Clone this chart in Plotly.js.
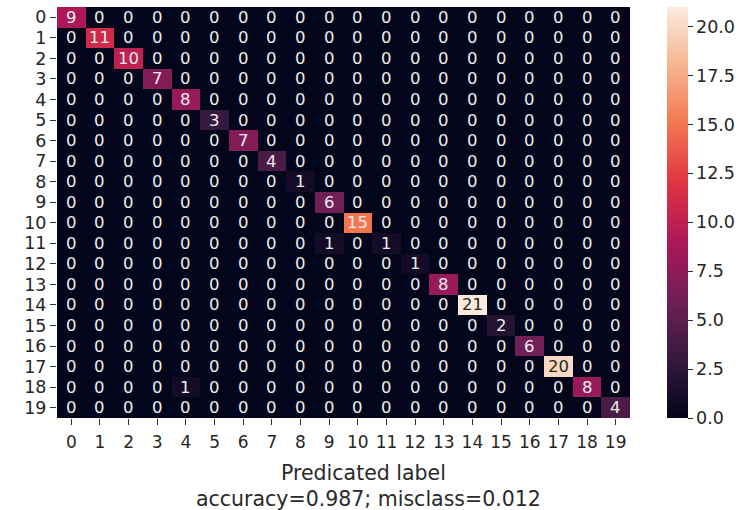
<!DOCTYPE html>
<html><head><meta charset="utf-8">
<script src="https://cdn.plot.ly/plotly-3.0.1.min.js"></script>
<style>body{margin:0;background:#fff}#chart{width:753px;height:510px}</style>
</head><body><div id="chart"></div>
<script>
const labels = ["0","1","2","3","4","5","6","7","8","9","10","11","12","13","14","15","16","17","18","19"];
// row = true label, col = predicted label
const diagonal = [9,11,10,7,8,3,7,4,1,6,15,1,1,8,21,2,6,20,8,4];
const offDiagonal = [[11,9,1],[18,4,1]]; // [row, col, value]
const xTitleLine1 = "Predicated label";
const xTitleLine2 = "accuracy=0.987; misclass=0.012";
const cbTickVals = [0,2.5,5,7.5,10,12.5,15,17.5,20];
const cbTickText = ['0.0','2.5','5.0','7.5','10.0','12.5','15.0','17.5','20.0'];

const z = labels.map((_, i) => labels.map((_, j) => (i === j ? diagonal[i] : 0)));
offDiagonal.forEach(([r, c, v]) => { z[r][c] = v; });

const rocket = [[0,'#03051a'],[0.143,'#35193e'],[0.286,'#701f57'],[0.429,'#ad1759'],
                [0.571,'#e13342'],[0.714,'#f37651'],[0.857,'#f6b48f'],[1,'#faebdd']];
const zmax = 21;

const annotations = [];
z.forEach((row, i) => row.forEach((v, j) => {
  annotations.push({x: j, y: i, xref: 'x', yref: 'y', text: String(v), showarrow: false,
    font: {family: 'DejaVu Sans', size: 16.5, color: v / zmax > 0.8 ? '#262626' : '#ececec'}});
}));
const titleFont = {family: 'DejaVu Sans', size: 20.5, color: '#2a2a2a'};
annotations.push({xref: 'paper', yref: 'paper', x: 0.535, y: -0.1338, xanchor: 'center', yanchor: 'middle',
  text: xTitleLine1, showarrow: false, font: titleFont});
annotations.push({xref: 'paper', yref: 'paper', x: 0.5445, y: -0.197, xanchor: 'center', yanchor: 'middle',
  text: xTitleLine2, showarrow: false, font: titleFont});

const trace = {
  type: 'heatmap', z: z, x: labels.map((_, i) => i), y: labels.map((_, i) => i),
  colorscale: rocket, zmin: 0, zmax: zmax, hoverinfo: 'skip',
  colorbar: {x: 1.0646, xanchor: 'left', thickness: 21, len: 1, lenmode: 'fraction', y: 0.5, yanchor: 'middle',
    ypad: 0, xpad: 0, outlinewidth: 0, tickvals: cbTickVals, ticktext: cbTickText,
    ticks: 'outside', ticklen: 5, tickcolor: '#333', tickfont: {family: 'DejaVu Sans', size: 17.5, color: '#262626'}}
};

const layout = {
  width: 753, height: 510, paper_bgcolor: '#fff', plot_bgcolor: '#fff',
  margin: {l: 57, r: 123, t: 7, b: 92},
  xaxis: {tickvals: labels.map((_, i) => i), ticktext: labels, ticks: 'outside', ticklen: 6, tickcolor: '#333',
    ticklabelstandoff: 3,
    tickfont: {family: 'DejaVu Sans', size: 17, color: '#262626'}, showgrid: false, zeroline: false,
    range: [-0.5, 19.5]},
  yaxis: {tickvals: labels.map((_, i) => i), ticktext: labels, ticks: 'outside', ticklen: 6, tickcolor: '#333',
    tickfont: {family: 'DejaVu Sans', size: 17.5, color: '#262626'}, showgrid: false, zeroline: false,
    range: [19.5, -0.5]},
  annotations: annotations
};
Plotly.newPlot('chart', [trace], layout, {displayModeBar: false, staticPlot: true});
</script></body></html>
